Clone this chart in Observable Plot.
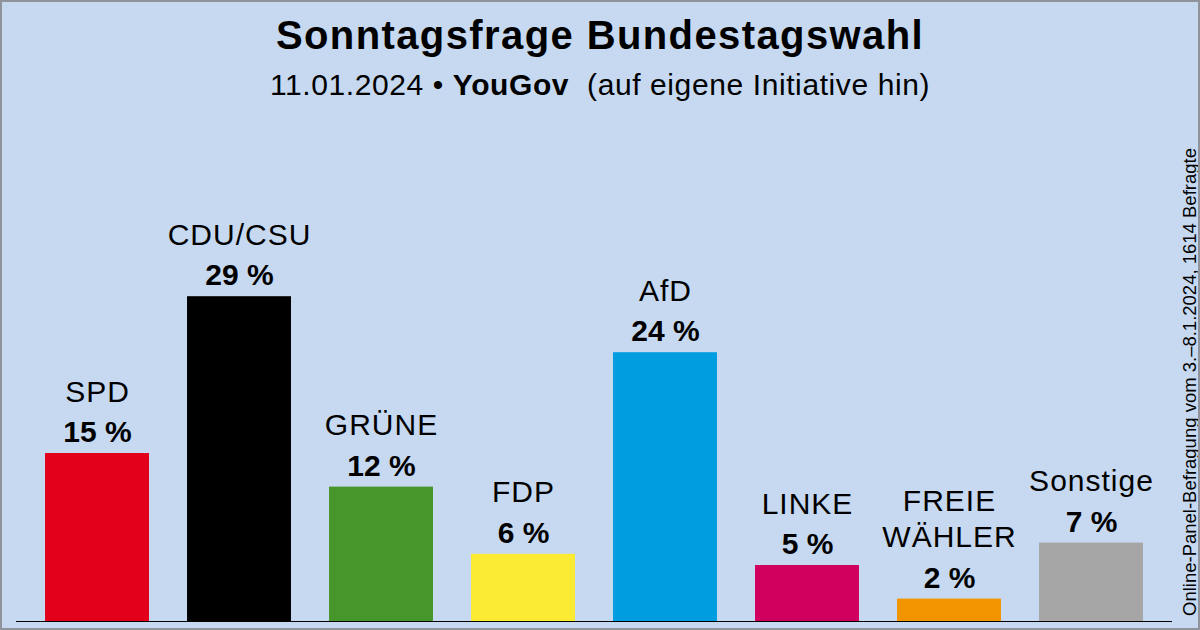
<!DOCTYPE html>
<html>
<head>
<meta charset="utf-8">
<script src="https://cdn.jsdelivr.net/npm/d3@7"></script>
<script src="https://cdn.jsdelivr.net/npm/@observablehq/plot@0.6"></script>
<style>
  html, body { margin: 0; padding: 0; background: #c6d9f0; }
  #wrap { position: relative; width: 1200px; height: 630px; background: #c6d9f0; overflow: hidden;
          font-family: "Liberation Sans", Arial, sans-serif; color: #000; }
  #frame { position: absolute; left: 0; top: 0; width: 1200px; height: 630px; box-sizing: border-box;
           border: 2px solid #8e939c; pointer-events: none; }
  #title { position: absolute; left: 0; width: 1200px; top: 9px; text-align: center;
           font-size: 40px; font-weight: bold; letter-spacing: 1.4px; line-height: 52px; white-space: nowrap; }
  #subtitle { position: absolute; left: 0; width: 1200px; top: 65px; text-align: center;
              font-size: 30px; letter-spacing: 0.6px; line-height: 40px; white-space: nowrap; }
  #note { position: absolute; left: 1190px; top: 616px; transform-origin: 0 0; transform: rotate(-90deg);
          font-size: 18.5px; white-space: nowrap; line-height: 18px; translate: -9px 0; }
  #chart { position: absolute; left: 0; top: 0; }
</style>
</head>
<body>
<div id="wrap">
  <div id="chart"></div>
  <div id="title">Sonntagsfrage Bundestagswahl</div>
  <div id="subtitle">11.01.2024 • <b>YouGov</b>&nbsp; (auf eigene Initiative hin)</div>
  <div id="note">Online-Panel-Befragung vom 3.–8.1.2024, 1614 Befragte</div>
  <div id="frame"></div>
</div>
<script>
const parties = ["SPD", "CDU/CSU", "GRÜNE", "FDP", "AfD", "LINKE", "FREIE WÄHLER", "Sonstige"];
const labels = ["SPD", "CDU/CSU", "GRÜNE", "FDP", "AfD", "LINKE", "FREIE\nWÄHLER", "Sonstige"];
const values = [15, 29, 12, 6, 24, 5, 2, 7];
const colors = ["#e3001b", "#000000", "#46962b", "#fbeb33", "#009ee0", "#d1005e", "#f29400", "#a6a6a6"];

const data = parties.map((p, i) => ({party: p, label: labels[i], value: values[i], color: colors[i]}));

const chart = Plot.plot({
  width: 1200,
  height: 630,
  marginTop: 61,
  marginBottom: 9,
  marginLeft: 16,
  marginRight: 28,
  style: {background: "transparent", fontFamily: "'Liberation Sans', Arial, sans-serif", color: "#000"},
  x: {domain: parties, paddingInner: 0.268, paddingOuter: 0.2045, round: false, axis: null},
  y: {domain: [0, 50], axis: null},
  marks: [
    Plot.barY(data, {x: "party", y: "value", fill: "color"}),
    Plot.ruleY([0], {stroke: "#000", strokeWidth: 1.2}),
    Plot.text(data, {x: "party", y: "value", text: d => d.value + " %", dy: -21,
      lineAnchor: "middle", fontSize: 30, fontWeight: "bold", fill: "#000"}),
    Plot.text(data, {x: "party", y: "value", text: "label", dy: -52,
      lineAnchor: "bottom", lineHeight: 1.2, fontSize: 30, fill: "#000"})
  ]
});
const textGroups = d3.select(chart).selectAll("g[aria-label='text']").nodes();
if (textGroups.length) d3.select(textGroups[textGroups.length - 1]).style("letter-spacing", "1px");
document.getElementById("chart").appendChild(chart);
</script>
</body>
</html>
